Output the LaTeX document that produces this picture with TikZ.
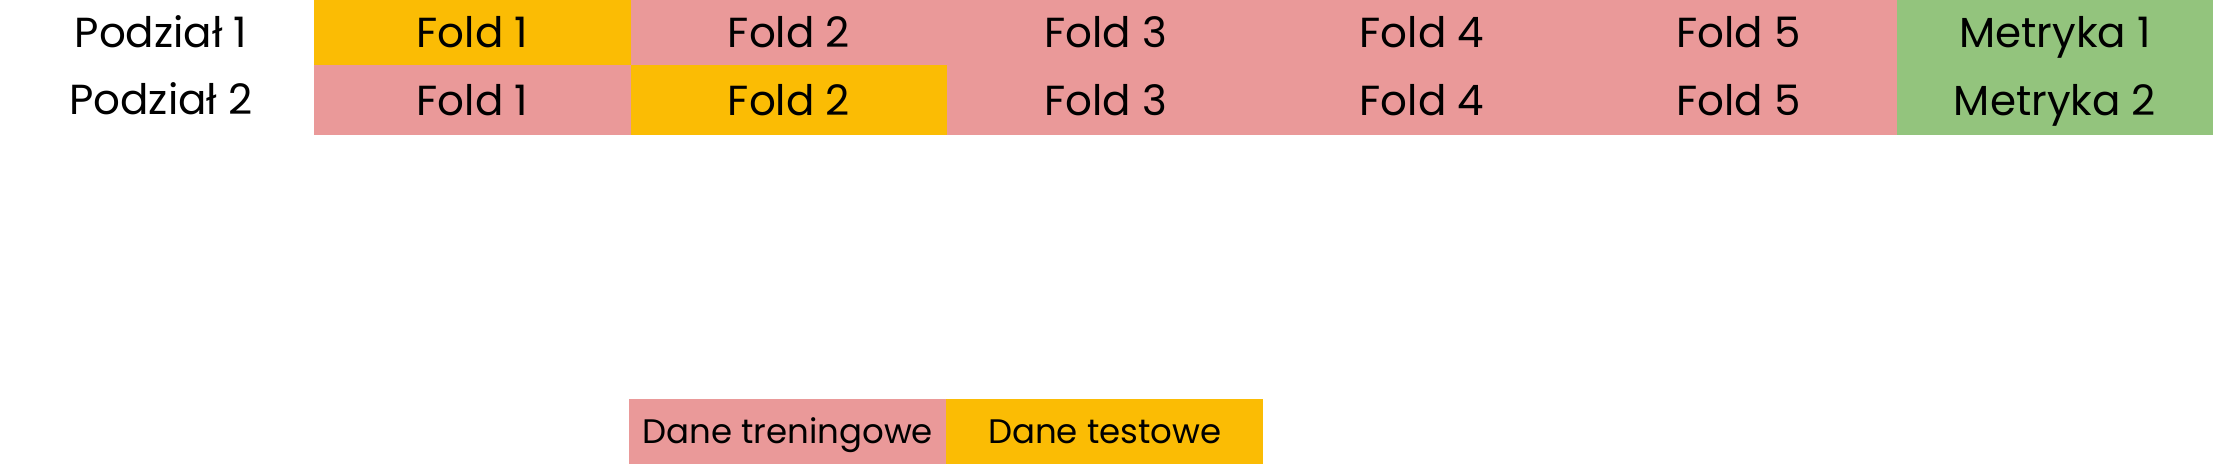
\documentclass[tikz,border=0pt]{standalone}
\usepackage{fontspec}
\setmainfont{Poppins}
\definecolor{trainpink}{HTML}{EA9999}
\definecolor{testyellow}{HTML}{FBBC04}
\definecolor{metricgreen}{HTML}{93C47D}
\begin{document}
\begin{tikzpicture}[x=1pt,y=1pt,
  cell/.style={draw=none, inner sep=0pt, minimum width=316.5pt, anchor=north west,
    font=\fontsize{42}{42}\selectfont, text height=30pt, text depth=0pt},
  rowlabel/.style={inner sep=0pt, font=\fontsize{42}{42}\selectfont, text height=30pt, text depth=0pt},
  legendcell/.style={draw=none, inner sep=0pt, minimum width=317pt, minimum height=65pt, anchor=north west,
    font=\fontsize{34}{34}\selectfont, text height=24pt, text depth=0pt}]
\useasboundingbox[fill=white] (0,0) rectangle (2220,464);
% row 1
\node[rowlabel] (l1) at (161,431.5) {Podział 1};
\node[cell, minimum height=65pt, fill=testyellow] (a1) at (314,464) {Fold 1};
\node[cell, minimum height=65pt, fill=trainpink] (a2) at (630.5,464) {Fold 2};
\node[cell, minimum height=65pt, fill=trainpink] (a3) at (947,464) {Fold 3};
\node[cell, minimum height=65pt, fill=trainpink] (a4) at (1263.5,464) {Fold 4};
\node[cell, minimum height=65pt, fill=trainpink] (a5) at (1580,464) {Fold 5};
\node[cell, minimum height=65pt, fill=metricgreen] (m1) at (1896.5,464) {Metryka 1};
% row 2
\node[rowlabel] (l2) at (161,364) {Podział 2};
\node[cell, minimum height=70pt, fill=trainpink] (b1) at (314,399) {Fold 1};
\node[cell, minimum height=70pt, fill=testyellow] (b2) at (630.5,399) {Fold 2};
\node[cell, minimum height=70pt, fill=trainpink] (b3) at (947,399) {Fold 3};
\node[cell, minimum height=70pt, fill=trainpink] (b4) at (1263.5,399) {Fold 4};
\node[cell, minimum height=70pt, fill=trainpink] (b5) at (1580,399) {Fold 5};
\node[cell, minimum height=70pt, fill=metricgreen] (m2) at (1896.5,399) {Metryka 2};
% legend
\node[legendcell, fill=trainpink] (train) at (629,65) {Dane treningowe};
\node[legendcell, fill=testyellow] (test) at (946,65) {Dane testowe};
\end{tikzpicture}
\end{document}
